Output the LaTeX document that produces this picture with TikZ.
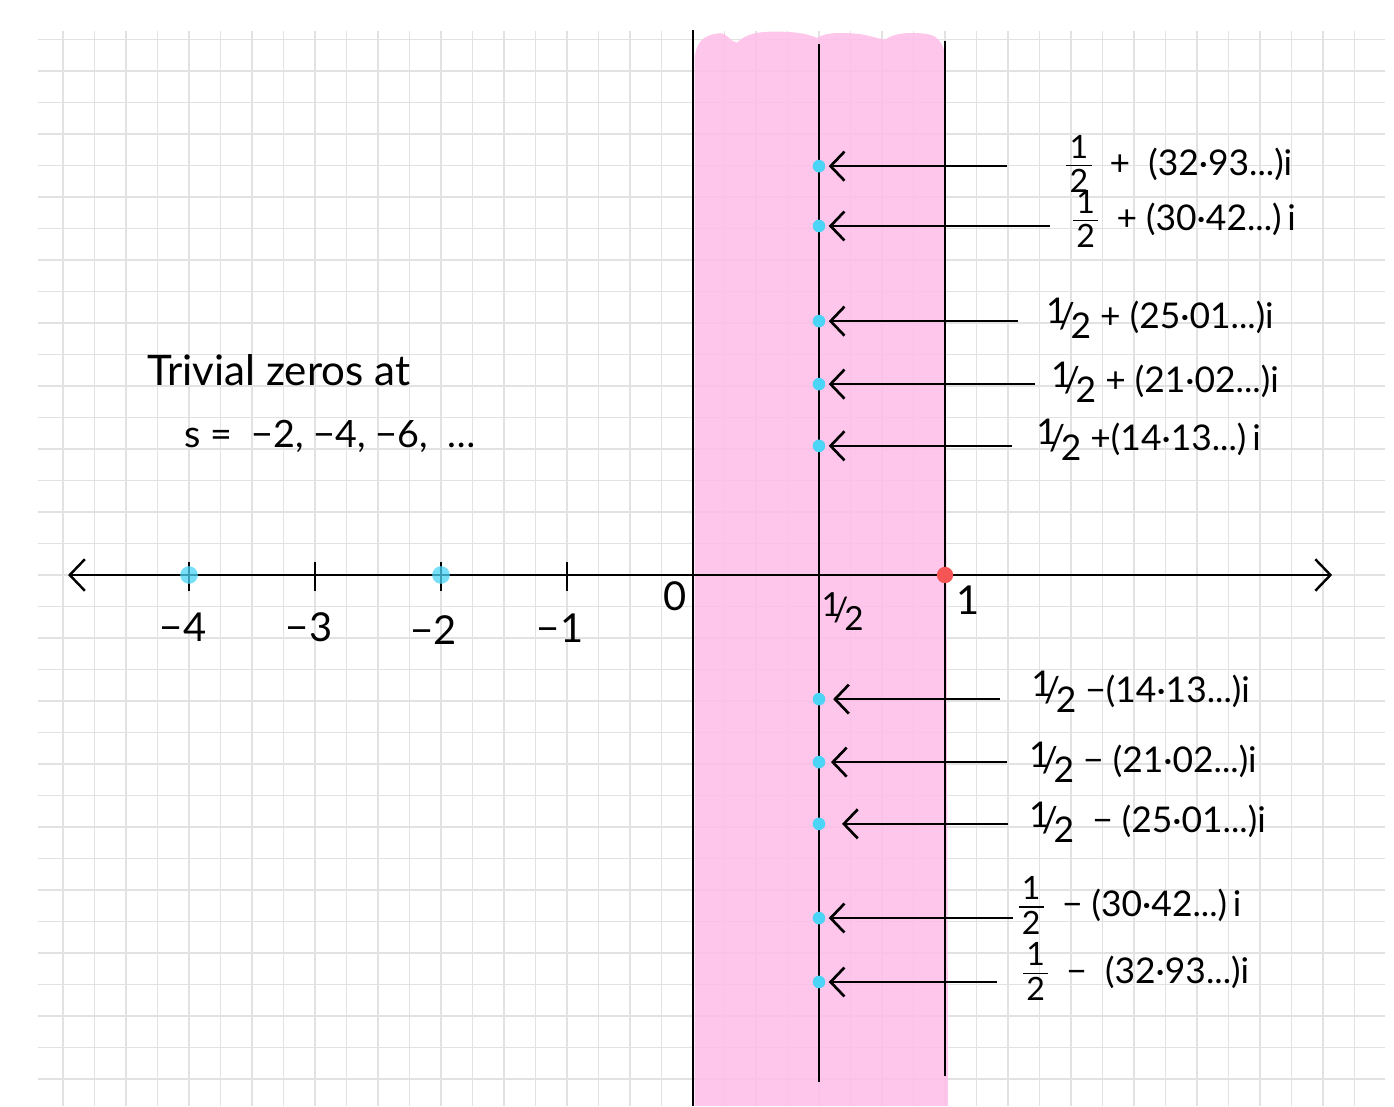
\documentclass[tikz,border=0pt]{standalone}
\usepackage{fontspec}
\usepackage{amsmath}
\setmainfont{Lato}
\usetikzlibrary{arrows.meta, positioning, calc}
\definecolor{stripPink}{RGB}{253,190,231}
\definecolor{zeroCyan}{RGB}{75,212,245}
\definecolor{poleRed}{RGB}{245,85,85}
\definecolor{paperGrid}{RGB}{226,226,226}
\newcommand{\stackhalf}{{\fontsize{14.5}{12}\selectfont\setlength{\arrayrulewidth}{0.7pt}\renewcommand{\arraystretch}{0.82}%
  \begin{tabular}[c]{@{\kern1.5pt}c@{\kern1.5pt}}1\\\hline\noalign{\vskip1.5pt}2\end{tabular}}}
\newcommand{\slashhalf}{\raisebox{0.3ex}{1}\kern-0.22em/\kern-0.12em\raisebox{-0.55ex}{2}}
\tikzset{
  zerodot/.style={circle, fill=zeroCyan, inner sep=0pt, minimum size=0.2cm},
  trivdot/.style={circle, fill=zeroCyan, opacity=0.75, inner sep=0pt, minimum size=0.28cm},
  zerolabel/.style={anchor=west, inner sep=0pt, font=\fontsize{16}{19}\selectfont},
  ticklabel/.style={font=\fontsize{18}{21}\selectfont},
  zeroarrow/.style={-{Straight Barb[length=2.2mm, width=4.6mm]}, line width=1.2pt},
}

\begin{document}
\begin{tikzpicture}[x=0.5cm, y=0.5cm, line width=1.1pt]
    \useasboundingbox (-22,-16.857) rectangle (22.254,18.254);

    % Paper grid
    \draw[paperGrid, line width=0.7pt, step=1] (-20.8,-16.857) grid (21.97,17.27);

    % Critical strip
    \fill[stripPink, opacity=0.88] (0.05,-16.857) -- (0.05,16.4)
        .. controls (0.1,16.9) and (0.3,17.15) .. (0.86,17.2)
        .. controls (1.1,17.2) and (1.2,16.9) .. (1.4,16.9)
        .. controls (1.7,17.2) and (2.1,17.25) .. (2.6,17.25)
        .. controls (3.2,17.25) and (3.6,17.2) .. (3.94,17.05)
        .. controls (4.2,17.2) and (4.5,17.22) .. (4.9,17.2)
        .. controls (5.5,17.2) and (5.9,17.0) .. (6.1,17.0)
        .. controls (6.4,17.2) and (6.8,17.22) .. (7.1,17.2)
        .. controls (7.6,17.2) and (7.9,17.1) .. (8.0,16.5)
        -- (8.1,-16.857) -- cycle;

    % Axis and vertical lines
    \coordinate (axL) at (-19.84,0);
    \coordinate (axR) at (20.29,0);
    \draw[{Straight Barb[length=2.4mm, width=5mm]}-{Straight Barb[length=2.4mm, width=5mm]}] (axL) -- (axR);
    \draw (0,17.3) -- (0,-16.857);
    \draw (4,16.86) -- (4,-16.1);
    \draw (8,16.95) -- (8,-15.9);

    % Ticks
    \draw (-16,0.4) -- (-16,-0.5);
    \draw (-12,0.4) -- (-12,-0.5);
    \draw (-8,0.4) -- (-8,-0.5);
    \draw (-4,0.4) -- (-4,-0.5);

    % Trivial zeros and pole
    \node[trivdot] (tz4) at (-16,0) {};
    \node[trivdot] (tz2) at (-8,0) {};
    \node[circle, fill=poleRed, inner sep=0pt, minimum size=0.26cm] (pole) at (8,0) {};

    % Axis labels
    \node[ticklabel] (lm4) at (-16.19,-1.65) {−4};
    \node[ticklabel] (lm3) at (-12.19,-1.65) {−3};
    \node[ticklabel] (lm2) at (-8.25,-1.75) {−2};
    \node[ticklabel] (lm1) at (-4.22,-1.68) {−1};
    \node[ticklabel] (l0) at (-0.57,-0.67) {0};
    \node[ticklabel, font=\fontsize{15}{18}\selectfont] (lhalf) at (4.75,-1.15) {\slashhalf};
    \node[ticklabel] (l1) at (8.73,-0.79) {1};

    % Text
    \node[anchor=west, font=\fontsize{19}{22}\selectfont] (triv) at (-17.6,6.5) {Trivial\ zeros\ at};
    \node[anchor=west, font=\fontsize{17}{20}\selectfont] (svals) at (-16.4,4.41) {s = \ −2, −4, −6, \ \dots};

    % Non-trivial zeros, upper half
    \node[zerodot] (zu1) at (4,12.98) {};
    \node[zerodot] (zu2) at (4,11.08) {};
    \node[zerodot] (zu3) at (4,8.06) {};
    \node[zerodot] (zu4) at (4,6.06) {};
    \node[zerodot] (zu5) at (4,4.10) {};
    \coordinate (tu1) at (9.97,12.98);
    \coordinate (tu2) at (11.33,11.08);
    \coordinate (tu3) at (10.32,8.06);
    \coordinate (tu4) at (10.86,6.06);
    \coordinate (tu5) at (10.13,4.10);
    \draw[zeroarrow, shorten >=1pt] (tu1) -- (zu1);
    \draw[zeroarrow, shorten >=1pt] (tu2) -- (zu2);
    \draw[zeroarrow, shorten >=1pt] (tu3) -- (zu3);
    \draw[zeroarrow, shorten >=1pt] (tu4) -- (zu4);
    \draw[zeroarrow, shorten >=1pt] (tu5) -- (zu5);
    \node[zerolabel] (nu1) at (11.81,12.95) {\stackhalf\ \ +\ \ (32·93...)i};
    \node[zerolabel] (nu2) at (12.03,11.2) {\stackhalf\ \ +\ (30·42...)\,i};
    \node[zerolabel] (nu3) at (11.17,8.16) {\slashhalf{} + (25·01...)i};
    \node[zerolabel] (nu4) at (11.33,6.13) {\slashhalf{} + (21·02...)i};
    \node[zerolabel] (nu5) at (10.86,4.29) {\slashhalf{} +(14·13...)\,i};

    % Non-trivial zeros, lower half
    \node[zerodot] (zd1) at (4,-3.94) {};
    \node[zerodot] (zd2) at (4,-5.94) {};
    \node[zerodot] (zd3) at (4,-7.90) {};
    \node[zerodot] (zd4) at (4,-10.89) {};
    \node[zerodot] (zd5) at (4,-12.92) {};
    \coordinate (td1) at (9.75,-3.94);
    \coordinate (td2) at (9.97,-5.94);
    \coordinate (td3) at (10.0,-7.90);
    \coordinate (td4) at (10.15,-10.89);
    \coordinate (td5) at (9.65,-12.92);
    \draw[zeroarrow, shorten >=3pt] (td1) -- (zd1);
    \draw[zeroarrow, shorten >=2pt] (td2) -- (zd2);
    \draw[zeroarrow, shorten >=7pt] (td3) -- (zd3);
    \draw[zeroarrow, shorten >=1pt] (td4) -- (zd4);
    \draw[zeroarrow, shorten >=1pt] (td5) -- (zd5);
    \node[zerolabel] (nd1) at (10.7,-3.71) {\slashhalf{} −(14·13...)i};
    \node[zerolabel] (nd2) at (10.63,-5.94) {\slashhalf{} − (21·02...)i};
    \node[zerolabel] (nd3) at (10.63,-7.84) {\slashhalf{} \ − (25·01...)i};
    \node[zerolabel] (nd4) at (10.3,-10.6) {\stackhalf\ \ −\ (30·42...)\,i};
    \node[zerolabel] (nd5) at (10.44,-12.7) {\stackhalf\ \ −\ \ (32·93...)i};
\end{tikzpicture}
\end{document}
